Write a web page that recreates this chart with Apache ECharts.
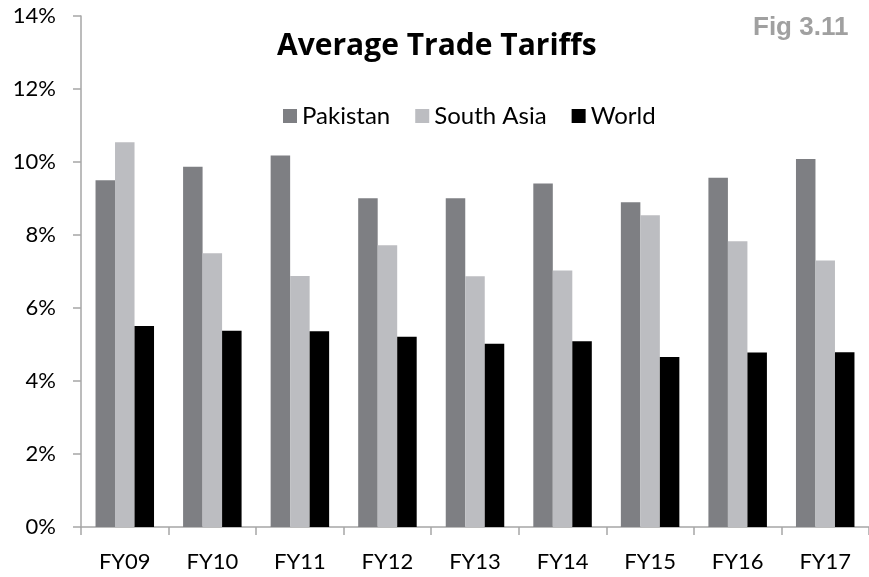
<!DOCTYPE html>
<html>
<head>
<meta charset="utf-8">
<script src="https://cdn.jsdelivr.net/npm/echarts/dist/echarts.min.js"></script>
<style>
  html, body { margin: 0; padding: 0; background: #fff; }
  #chart { width: 869px; height: 577px; }
</style>
</head>
<body>
<div id="chart"></div>
<script>
  // data (percent)
  const years = ['FY09', 'FY10', 'FY11', 'FY12', 'FY13', 'FY14', 'FY15', 'FY16', 'FY17'];
  const pakistan = [9.5, 9.87, 10.18, 9.01, 9.01, 9.41, 8.9, 9.57, 10.08];
  const southAsia = [10.54, 7.5, 6.88, 7.72, 6.87, 7.03, 8.54, 7.83, 7.3];
  const world = [5.51, 5.38, 5.36, 5.21, 5.02, 5.09, 4.66, 4.78, 4.79];

  const font = 'Lato, "Open Sans", sans-serif';
  const axisGrey = '#a6a6a6';

  const chart = echarts.init(document.getElementById('chart'));
  const bar = (name, data, color) => ({
    name: name,
    type: 'bar',
    data: data,
    barWidth: 19.5,
    barGap: '0%',
    itemStyle: { color: color },
    animation: false
  });

  chart.setOption({
    animation: false,
    textStyle: { fontFamily: font },
    title: [
      {
        text: 'Average Trade Tariffs',
        left: 272,
        top: 26,
        textStyle: { fontFamily: '"Open Sans", Lato, sans-serif', fontSize: 30, fontWeight: 'bold', color: '#000' }
      },
      {
        text: 'Fig 3.11',
        left: 748,
        top: 10,
        textStyle: { fontFamily: '"Liberation Sans", Arial, sans-serif', fontSize: 26, fontWeight: 'bold', color: '#a0a0a0' }
      }
    ],
    legend: {
      left: 278,
      top: 99,
      icon: 'rect',
      itemWidth: 14,
      itemHeight: 14,
      itemGap: 25,
      textStyle: { fontFamily: font, fontSize: 24, color: '#000' },
      data: ['Pakistan', 'South Asia', 'World']
    },
    grid: { left: 81, right: 0, top: 16, bottom: 50, containLabel: false },
    xAxis: {
      type: 'category',
      data: years,
      axisLine: { lineStyle: { color: axisGrey, width: 1.5 } },
      axisTick: { show: true, length: 8, lineStyle: { color: axisGrey, width: 1.5 } },
      axisLabel: { color: '#000', fontSize: 22, fontFamily: font, margin: 24 }
    },
    yAxis: {
      type: 'value',
      min: 0,
      max: 14,
      interval: 2,
      splitLine: { show: false },
      axisLine: { show: true, lineStyle: { color: axisGrey, width: 1.5 } },
      axisTick: { show: true, length: 8, lineStyle: { color: axisGrey, width: 1.5 } },
      axisLabel: { color: '#000', fontSize: 22, fontFamily: font, margin: 25, formatter: '{value}%' }
    },
    series: [
      bar('Pakistan', pakistan, '#7e7f83'),
      bar('South Asia', southAsia, '#bcbdc1'),
      bar('World', world, '#000000')
    ]
  });
</script>
</body>
</html>
